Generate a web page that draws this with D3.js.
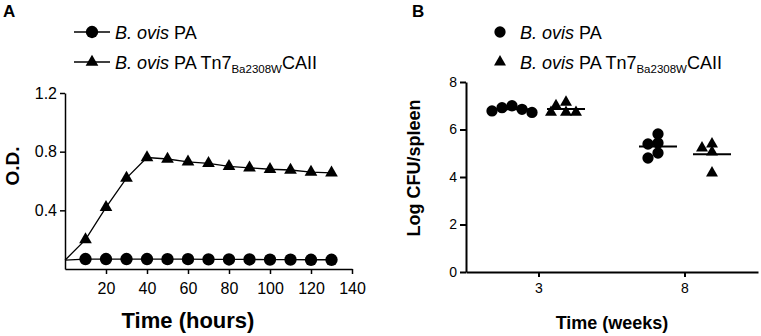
<!doctype html>
<html lang="en">
<head>
<meta charset="UTF-8">
<title>B. ovis growth and spleen CFU</title>
<script src="https://cdn.jsdelivr.net/npm/d3@7"></script>
<style>
  body { margin: 0; background: #fff; }
  svg text { font-family: "Liberation Sans", Arial, sans-serif; fill: #000; }
</style>
</head>
<body>
<div class="canvas"></div>
<script>
  // panel A: optical density over time
  const hours = [0, 10, 20, 30, 40, 50, 60, 70, 80, 90, 100, 110, 120, 130];
  const odPA = [0.06, 0.068, 0.068, 0.068, 0.068, 0.067, 0.067, 0.066, 0.065, 0.065, 0.064, 0.064, 0.063, 0.063];
  const odTn7 = [0.06, 0.20, 0.42, 0.62, 0.76, 0.75, 0.73, 0.72, 0.70, 0.69, 0.68, 0.675, 0.66, 0.655];
  const hourTicks = [20, 40, 60, 80, 100, 120, 140];
  const odTicks = [0.4, 0.8, 1.2];

  // panel B: log CFU per spleen
  const weeks = [3, 8];
  const cfuPA = [[7.0, 6.92, 6.85, 6.78, 6.72], [5.81, 5.43, 5.39, 5.01, 4.80]];
  const cfuTn7 = [[7.15, 7.0, 6.72, 6.72, 6.72], [5.39, 5.22, 5.05, 4.17]];
  const cfuTicks = [0, 2, 4, 6, 8];

  const svg = d3.select('.canvas').append('svg')
    .attr('width', 761)
    .attr('height', 336);

  const circleA = d3.symbol().type(d3.symbolCircle).size(120);
  const triA = d3.symbol().type(d3.symbolTriangle).size(70);
  const circleB = d3.symbol().type(d3.symbolCircle).size(100);
  const triB = d3.symbol().type(d3.symbolTriangle).size(62);

  // legend text with italic genus and subscript strain
  function legendLabel(g, x, y, sub) {
    const t = g.append('text').attr('x', x).attr('y', y).style('font-size', '18px');
    t.append('tspan').style('font-style', 'italic').text('B. ovis');
    t.append('tspan').text(' PA');
    if (sub) {
      t.append('tspan').text(' Tn7');
      t.append('tspan').attr('dy', 4).style('font-size', '11.5px').text('Ba2308W');
      t.append('tspan').attr('dy', -4).text('CAII');
    }
  }

  // ---------- A ----------
  const xA = d3.scaleLinear().domain([0, 140]).range([65, 352]);
  const yA = d3.scaleLinear().domain([0, 1.2]).range([269, 93]);

  const gA = svg.append('g');

  gA.append('g')
    .attr('transform', `translate(0, ${yA(0)})`)
    .call(d3.axisBottom(xA).tickValues(hourTicks).tickSize(5).tickSizeOuter(0).tickPadding(9))
    .call(g => g.selectAll('text').style('font-size', '16px'));

  gA.append('g')
    .attr('transform', `translate(${xA(0)}, 0)`)
    .call(d3.axisLeft(yA).tickValues(odTicks).tickFormat(d3.format('.1f')).tickSize(5).tickSizeOuter(0).tickPadding(3))
    .call(g => g.selectAll('text').style('font-size', '16px'));

  gA.selectAll('.domain, .tick line').attr('stroke', '#000').attr('stroke-width', 1.5);

  const lineA = d3.line().x((d, i) => xA(hours[i])).y(d => yA(d));

  [odPA, odTn7].forEach((s, k) => {
    gA.append('path')
      .datum(s)
      .attr('d', lineA)
      .attr('fill', 'none')
      .attr('stroke', '#000')
      .attr('stroke-width', 1.3);

    gA.selectAll(null)
      .data(s.slice(1))
      .enter()
      .append('path')
      .attr('d', k === 0 ? circleA : triA)
      .attr('transform', (d, i) => `translate(${xA(hours[i + 1])}, ${yA(d)})`)
      .attr('fill', '#000');
  });

  gA.append('text')
    .attr('transform', 'translate(19, 166) rotate(-90)')
    .attr('text-anchor', 'middle')
    .style('font-size', '19px')
    .style('font-weight', 'bold')
    .text('O.D.');

  gA.append('text')
    .attr('x', 188).attr('y', 328)
    .attr('text-anchor', 'middle')
    .style('font-size', '22px')
    .style('font-weight', 'bold')
    .text('Time (hours)');

  gA.append('text')
    .attr('x', 3).attr('y', 17)
    .style('font-size', '17px')
    .style('font-weight', 'bold')
    .text('A');

  const legA = [{ sym: circleA, y: 32, sub: false }, { sym: triA, y: 62, sub: true }];
  legA.forEach(d => {
    gA.append('line')
      .attr('x1', 74).attr('x2', 110)
      .attr('y1', d.y).attr('y2', d.y)
      .attr('stroke', '#000').attr('stroke-width', 1.3);
    gA.append('path').attr('d', d.sym).attr('transform', `translate(92, ${d.y})`);
    legendLabel(gA, 115, d.y + 6.5, d.sub);
  });

  // ---------- B ----------
  const xB = d3.scaleBand().domain(weeks).range([466, 758]);
  const yB = d3.scaleLinear().domain([0, 8]).range([272, 82]);
  const gB = svg.append('g');

  gB.append('g')
    .attr('transform', `translate(0, ${yB(0)})`)
    .call(d3.axisBottom(xB).tickSize(5).tickSizeOuter(0).tickPadding(6))
    .call(g => g.selectAll('text').style('font-size', '14px'));

  gB.append('g')
    .attr('transform', `translate(${xB.range()[0]}, 0)`)
    .call(d3.axisLeft(yB).tickValues(cfuTicks).tickSize(6).tickSizeOuter(0).tickPadding(3))
    .call(g => g.selectAll('text').style('font-size', '14px'));

  gB.selectAll('.domain, .tick line').attr('stroke', '#000').attr('stroke-width', 2);

  // simple swarm so overlapping points spread sideways
  function swarm(vals, minD, step) {
    const placed = [];
    vals.slice().sort((a, b) => b - a).forEach(v => {
      const py = yB(v);
      for (let k = 0; k < 30; k++) {
        const dx = k === 0 ? 0 : (k % 2 ? -1 : 1) * Math.ceil(k / 2) * step;
        if (placed.every(q => Math.hypot(q.dx - dx, q.py - py) >= minD)) {
          placed.push({ v, dx, py });
          break;
        }
      }
    });
    return placed;
  }

  const groups = [
    { data: cfuPA, off: -27, sym: circleB },
    { data: cfuTn7, off: 27, sym: triB }
  ];

  groups.forEach(grp => {
    weeks.forEach((w, wi) => {
      const cx = xB(w) + xB.bandwidth() / 2 + grp.off;
      const pts = swarm(grp.data[wi], 8, 5);
      gB.selectAll(null)
        .data(pts)
        .enter()
        .append('path')
        .attr('d', grp.sym)
        .attr('transform', d => `translate(${cx + d.dx}, ${d.py})`)
        .attr('fill', '#000');
      const m = d3.mean(grp.data[wi]);
      gB.append('line')
        .attr('x1', cx - 19).attr('x2', cx + 19)
        .attr('y1', yB(m)).attr('y2', yB(m))
        .attr('stroke', '#000').attr('stroke-width', 2);
    });
  });

  gB.append('text')
    .attr('transform', 'translate(420, 168) rotate(-90)')
    .attr('text-anchor', 'middle')
    .style('font-size', '18px')
    .style('font-weight', 'bold')
    .text('Log CFU/spleen');

  gB.append('text')
    .attr('x', 612).attr('y', 329)
    .attr('text-anchor', 'middle')
    .style('font-size', '18px')
    .style('font-weight', 'bold')
    .text('Time (weeks)');

  gB.append('text')
    .attr('x', 412).attr('y', 17)
    .style('font-size', '17px')
    .style('font-weight', 'bold')
    .text('B');

  const legB = [{ sym: circleB, y: 32, sub: false }, { sym: triB, y: 62, sub: true }];
  legB.forEach(d => {
    gB.append('path').attr('d', d.sym).attr('transform', `translate(500, ${d.y})`);
    legendLabel(gB, 520, d.y + 6.5, d.sub);
  });
</script>
</body>
</html>
